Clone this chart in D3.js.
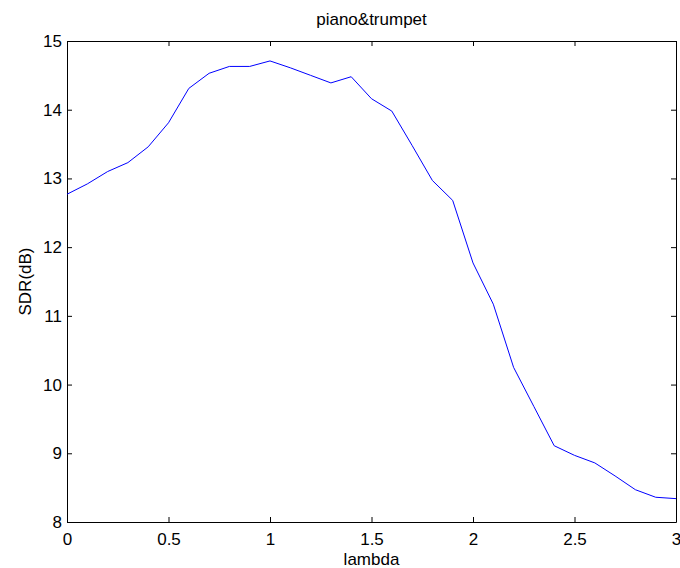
<!DOCTYPE html>
<html>
<head>
<meta charset="utf-8">
<script src="https://cdnjs.cloudflare.com/ajax/libs/d3/7.8.5/d3.min.js"></script>
<style>
  body { margin: 0; background: #fff; }
  text { font-family: "Liberation Sans", Arial, sans-serif; fill: #000; }
</style>
</head>
<body>
<div id="chart"></div>
<script>
// Data
var lambdaValues = [0, 0.1, 0.2, 0.3, 0.4, 0.5, 0.6, 0.7, 0.8, 0.9, 1.0,
  1.1, 1.2, 1.3, 1.4, 1.5, 1.6, 1.7, 1.8, 1.9, 2.0,
  2.1, 2.2, 2.3, 2.4, 2.5, 2.6, 2.7, 2.8, 2.9, 3.0];
var sdrValues = [12.77, 12.92, 13.1, 13.23, 13.46, 13.81, 14.31, 14.53, 14.63, 14.63, 14.71,
  14.61, 14.5, 14.39, 14.48, 14.16, 13.98, 13.48, 12.97, 12.68, 11.77,
  11.17, 10.25, 9.68, 9.11, 8.97, 8.86, 8.67, 8.47, 8.36, 8.34];
var xTicks = [0, 0.5, 1, 1.5, 2, 2.5, 3];
var yTicks = [8, 9, 10, 11, 12, 13, 14, 15];

var svgWidth = 680;
var svgHeight = 568;

var chartMargin = { top: 41, right: 4, bottom: 46, left: 67 };
var chartWidth = svgWidth - chartMargin.left - chartMargin.right;
var chartHeight = svgHeight - chartMargin.top - chartMargin.bottom;

var svg = d3.select("#chart")
  .append("svg")
  .attr("width", svgWidth)
  .attr("height", svgHeight);

var chartGroup = svg.append("g")
  .attr("transform", `translate(${chartMargin.left}, ${chartMargin.top})`);

var xScale = d3.scaleLinear().domain([0, 3]).range([0, chartWidth]);
var yScale = d3.scaleLinear().domain([8, 15]).range([chartHeight, 0]);

// axes with inward ticks, matlab style box
var fmt = d3.format("~g");
var bottomAxis = d3.axisBottom(xScale).tickValues(xTicks).tickSizeInner(-5).tickSizeOuter(0).tickPadding(11).tickFormat(fmt);
var topAxis = d3.axisTop(xScale).tickValues(xTicks).tickSizeInner(-5).tickSizeOuter(0).tickFormat("");
var leftAxis = d3.axisLeft(yScale).tickValues(yTicks).tickSizeInner(-5).tickSizeOuter(0).tickPadding(5).tickFormat(fmt);
var rightAxis = d3.axisRight(yScale).tickValues(yTicks).tickSizeInner(-5).tickSizeOuter(0).tickFormat("");

chartGroup.append("g").attr("transform", `translate(0, ${chartHeight})`).call(bottomAxis);
chartGroup.append("g").call(topAxis);
chartGroup.append("g").call(leftAxis);
chartGroup.append("g").attr("transform", `translate(${chartWidth}, 0)`).call(rightAxis);

chartGroup.selectAll(".domain").attr("stroke", "#000").attr("stroke-width", 1);
chartGroup.selectAll(".tick line").attr("stroke", "#000");
chartGroup.selectAll(".tick text")
  .style("font-family", '"Liberation Sans", Arial, sans-serif')
  .style("font-size", "17px");

// line
var line = d3.line()
  .x((d, i) => xScale(lambdaValues[i]))
  .y(d => yScale(d));

chartGroup.append("path")
  .datum(sdrValues)
  .attr("fill", "none")
  .attr("stroke", "#0000ff")
  .attr("stroke-width", 1)
  .attr("d", line);

// title and labels
svg.append("text")
  .attr("x", chartMargin.left + chartWidth / 2)
  .attr("y", 25)
  .attr("text-anchor", "middle")
  .style("font-size", "17px")
  .text("piano&trumpet");

svg.append("text")
  .attr("x", chartMargin.left + chartWidth / 2)
  .attr("y", 565)
  .attr("text-anchor", "middle")
  .style("font-size", "17px")
  .text("lambda");

svg.append("text")
  .attr("transform", `translate(31, ${chartMargin.top + chartHeight / 2}) rotate(-90)`)
  .attr("text-anchor", "middle")
  .style("font-size", "17px")
  .text("SDR(dB)");
</script>
</body>
</html>
